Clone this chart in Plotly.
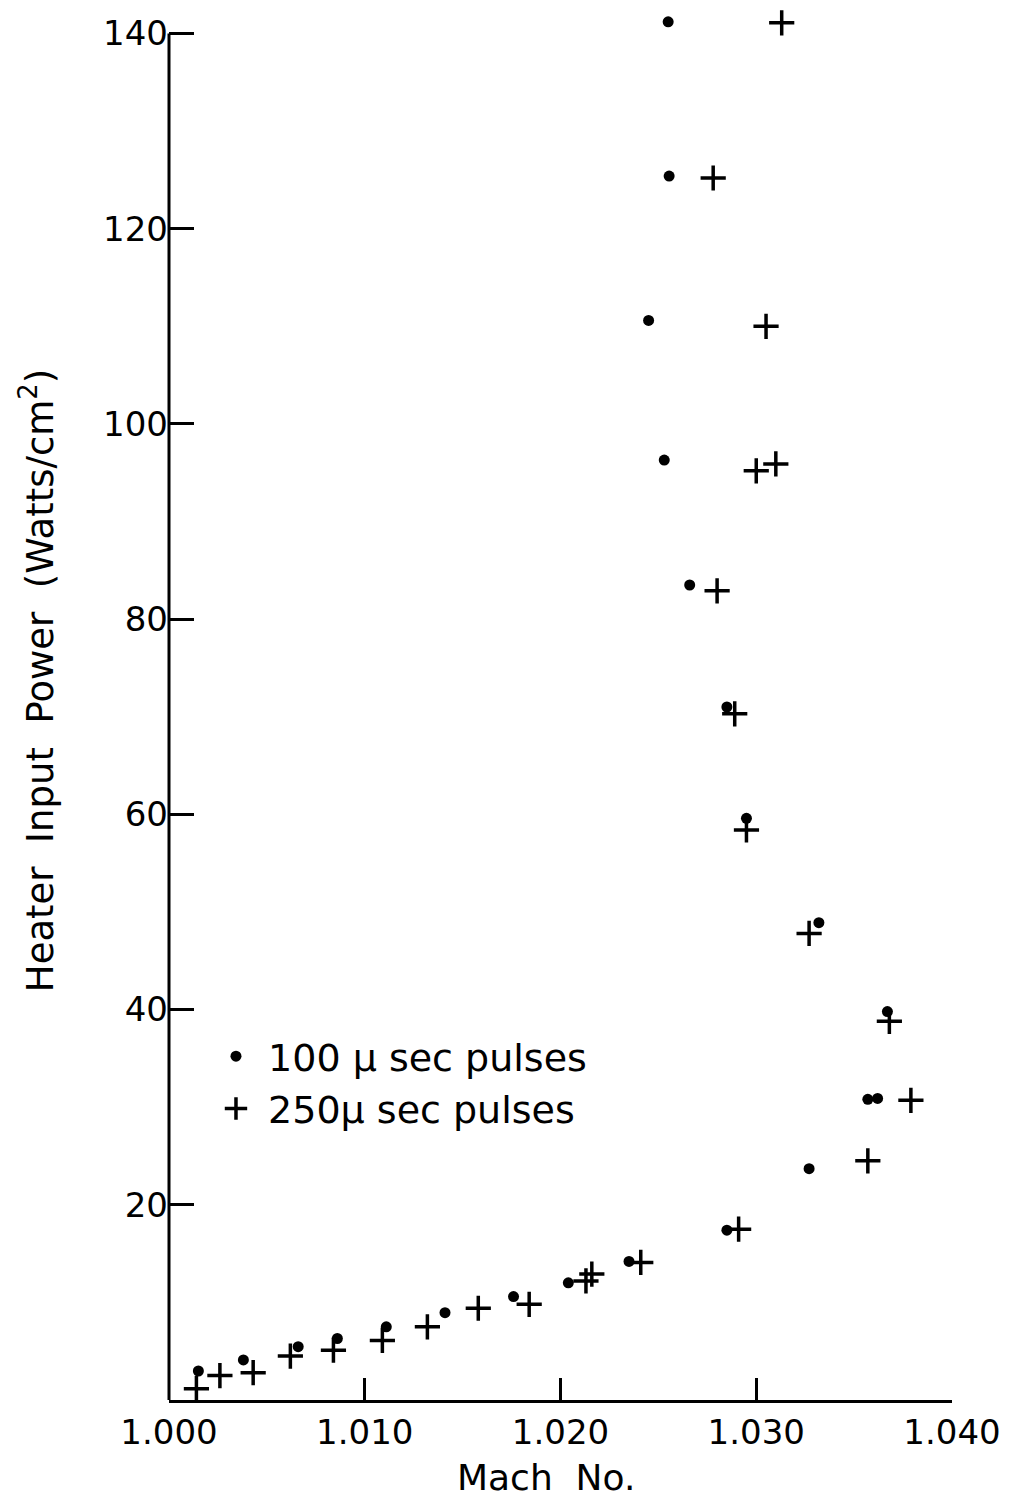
import plotly.graph_objects as go

# 100 microsecond pulses (dots)
mach_100 = [1.0255, 1.02555, 1.0245, 1.0253, 1.0266, 1.0285, 1.0295, 1.0332,
            1.0367, 1.0357, 1.0362, 1.0327, 1.0285, 1.0235, 1.0204, 1.0176,
            1.0141, 1.0111, 1.0086, 1.0066, 1.0038, 1.0015]
power_100 = [141.2, 125.4, 110.6, 96.3, 83.5, 71.0, 59.6, 48.9,
             39.8, 30.8, 30.9, 23.7, 17.4, 14.2, 12.0, 10.6,
             8.95, 7.5, 6.3, 5.46, 4.1, 2.97]

# 250 microsecond pulses (crosses)
mach_250 = [1.0313, 1.0278, 1.0305, 1.0300, 1.0310, 1.0280, 1.0289, 1.0295,
            1.0327, 1.0368, 1.0379, 1.0357, 1.0291, 1.0241, 1.0213, 1.0216,
            1.0184, 1.0158, 1.0132, 1.0109, 1.0084, 1.0062, 1.0043, 1.0026, 1.0014]
power_250 = [141.1, 125.2, 110.0, 95.2, 95.9, 82.9, 70.3, 58.4,
             47.8, 38.8, 30.7, 24.5, 17.5, 14.1, 12.2, 12.9,
             9.8, 9.4, 7.5, 6.1, 5.1, 4.5, 2.8, 2.5, 1.16]

x_ticks = [1.000, 1.010, 1.020, 1.030, 1.040]
x_tick_labels = ["1.000", "1.010", "1.020", "1.030", "1.040"]
y_ticks = [20, 40, 60, 80, 100, 120, 140]
y_tick_labels = ["20", "40", "60", "80", "100", "120", "140"]
y_axis_top = 140

FONT = "DejaVu Sans"

fig = go.Figure()
fig.add_trace(go.Scatter(
    x=mach_100, y=power_100, mode="markers", name=" 100 \u00b5 sec pulses",
    marker=dict(symbol="circle", size=11, color="black"),
    cliponaxis=False,
))
fig.add_trace(go.Scatter(
    x=mach_250, y=power_250, mode="markers", name=" 250\u00b5 sec pulses",
    marker=dict(symbol="cross-thin", size=18, color="black",
                line=dict(width=3.5, color="black")),
    cliponaxis=False,
))

fig.update_layout(
    width=1016, height=1496,
    margin=dict(l=161, r=72, t=6, b=104),
    paper_bgcolor="white", plot_bgcolor="white",
    font=dict(family=FONT, color="black", size=34),
    legend=dict(x=0.060, y=0.2706, xanchor="left", yanchor="top",
                bgcolor="rgba(0,0,0,0)", font=dict(size=38, family=FONT),
                itemsizing="trace"),
    showlegend=True,
    shapes=[
        dict(type="line", xref="paper", yref="y", x0=0, x1=0, y0=0, y1=y_axis_top,
             line=dict(color="black", width=3)),
    ],
    annotations=[
        dict(text="Mach  No.", xref="paper", yref="paper", x=0.4815, y=-0.0556,
             xanchor="center", yanchor="middle", showarrow=False,
             font=dict(size=36, family=FONT, color="black")),
        dict(text="Heater  Input  Power  (Watts/cm<sup>2</sup>)", xref="paper", yref="paper",
             x=-0.167, y=0.5188, xanchor="center", yanchor="middle", showarrow=False,
             textangle=-90, font=dict(size=37, family=FONT, color="black")),
    ],
)
fig.update_xaxes(
    range=[1.000, 1.040], tickmode="array", tickvals=x_ticks, ticktext=x_tick_labels,
    showgrid=False, zeroline=False, showline=True, linecolor="black", linewidth=3,
    ticks="inside", ticklen=22, tickwidth=3, tickcolor="black",
    tickfont=dict(size=34, family=FONT),
)
fig.update_yaxes(
    range=[0, 142], tickmode="array", tickvals=y_ticks, ticktext=y_tick_labels,
    showgrid=False, zeroline=False, showline=False,
    ticks="inside", ticklen=25, tickwidth=3, tickcolor="black",
    tickfont=dict(size=34, family=FONT),
)

fig.write_html("out.html")
